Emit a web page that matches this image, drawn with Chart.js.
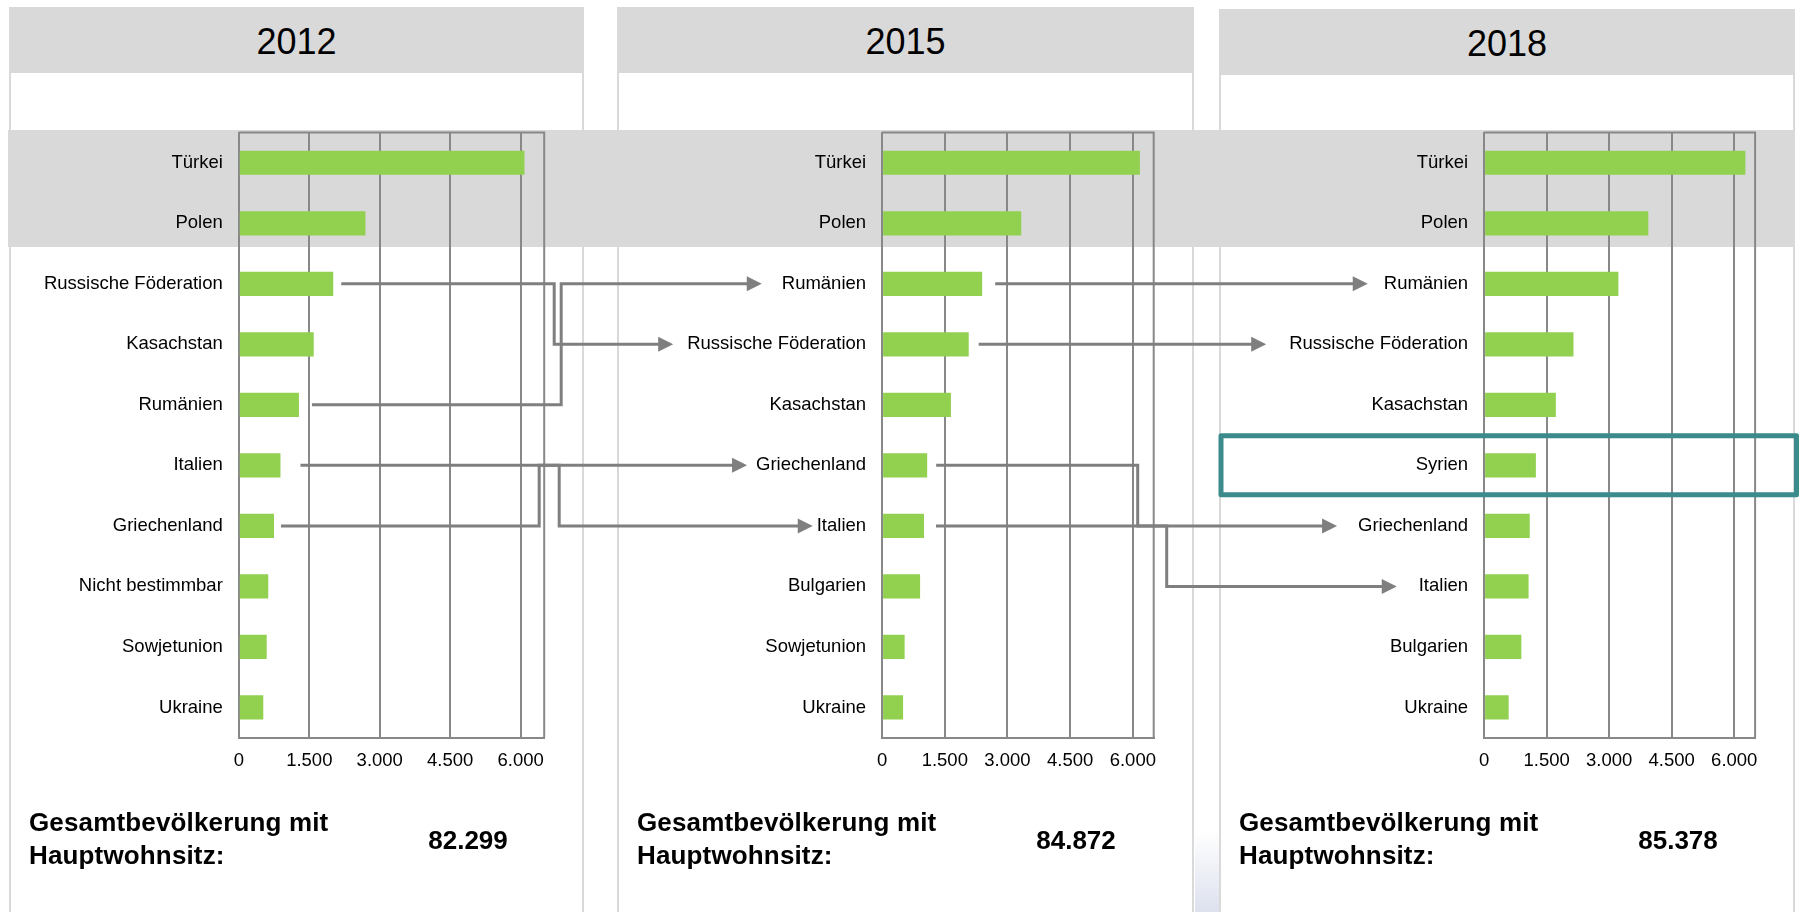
<!DOCTYPE html>
<html lang="de">
<head>
<meta charset="utf-8">
<title>Ausländische Bevölkerung nach Staatsangehörigkeit</title>
<script src="https://cdn.jsdelivr.net/npm/chart.js@4/dist/chart.umd.min.js"></script>
<style>
    html, body { margin: 0; padding: 0; background: #fff; }
    body { width: 1802px; height: 912px; position: relative; overflow: hidden;
           font-family: "Liberation Sans", Arial, sans-serif; color: #000; }
    .panel { position: absolute; bottom: 0; box-sizing: border-box;
             border-left: 2px solid #d9d9d9; border-right: 2px solid #d9d9d9; }
    .head { position: absolute; left: -2px; right: -2px; top: 0; height: 66px; background: #d9d9d9; }
    .year { position: absolute; left: 0; right: 0; top: 15px; font-size: 36px; line-height: 40px; text-align: center; }
    .band { position: absolute; left: 8px; width: 1787px; top: 130px; height: 117px; background: #d9d9d9; }
    .total-label { position: absolute; font-weight: bold; font-size: 26px; line-height: 32.6px; white-space: nowrap; letter-spacing: 0.15px; }
    .total-value { position: absolute; width: 200px; font-weight: bold; font-size: 26px; line-height: 32px; text-align: center; }
    .smudge { position: absolute; left: 1195px; width: 24px; top: 830px; height: 82px;
              background: linear-gradient(#fff, #dde1ee); }
    canvas.chart { position: absolute; }
    #overlay { position: absolute; left: 0; top: 0; pointer-events: none; }
</style>
</head>
<body>
<div class="band"></div>
<div class="smudge"></div>
<canvas id="overlay" width="1802" height="912"></canvas>
<script>
const years = ['2012', '2015', '2018'];

const categories2012 = ['Türkei', 'Polen', 'Russische Föderation', 'Kasachstan', 'Rumänien', 'Italien', 'Griechenland', 'Nicht bestimmbar', 'Sowjetunion', 'Ukraine'];
const values2012     = [6080, 2695, 2010, 1595, 1280, 887, 749, 627, 594, 521];

const categories2015 = ['Türkei', 'Polen', 'Rumänien', 'Russische Föderation', 'Kasachstan', 'Griechenland', 'Italien', 'Bulgarien', 'Sowjetunion', 'Ukraine'];
const values2015     = [6170, 3330, 2395, 2073, 1647, 1079, 1003, 909, 539, 502];

const categories2018 = ['Türkei', 'Polen', 'Rumänien', 'Russische Föderation', 'Kasachstan', 'Syrien', 'Griechenland', 'Italien', 'Bulgarien', 'Ukraine'];
const values2018     = [6267, 3939, 3221, 2144, 1721, 1242, 1095, 1067, 893, 589];

const totals    = ['82.299', '84.872', '85.378'];
const axisTicks = [0, 1500, 3000, 4500, 6000];
const axisMax   = 6500;

// rank changes shown by the arrows
const moves2012to2015 = [['Russische Föderation', 'Russische Föderation'], ['Rumänien', 'Rumänien'], ['Italien', 'Italien'], ['Griechenland', 'Griechenland']];
const moves2015to2018 = [['Rumänien', 'Rumänien'], ['Russische Föderation', 'Russische Föderation'], ['Griechenland', 'Griechenland'], ['Italien', 'Italien']];
const highlight2018   = 'Syrien';

// ── Layout / styles ─────────────────────────────
const GRID       = '#888888';
const BAR        = '#92d050';
const ARROW      = '#7f7f7f';
const TEAL       = '#3b8a8c';
const LABEL_PAD  = 16;
const LABEL_SIZE = 18.5;
const LABEL_FONT = LABEL_SIZE + 'px "Liberation Sans", Arial, sans-serif';

const panels = [
    { left: 9,    width: 575, headTop: 7, plotLeft: 238.8,  plotRight: 544.2 },
    { left: 617,  width: 577, headTop: 7, plotLeft: 882.1,  plotRight: 1153.7 },
    { left: 1219, width: 576, headTop: 9, plotLeft: 1484.1, plotRight: 1755.1 }
];
const CHART_TOP = 118, CHART_H = 672, PLOT_TOP = 132.5, PLOT_BOTTOM = 737.7;

// [gap after bar, bend x relative to plot right (null = straight), gap before target label]
const bends12 = [[8, 10, 14], [13, 17, 20], [20, 15, 4], [7, -5, 9]];
const bends15 = [[13, null, 16], [10, null, 23], [9, -16, 21], [12, 13, 22]];

Chart.defaults.font.family = '"Liberation Sans", Arial, sans-serif';
Chart.defaults.color = '#000';

const fmt = v => String(v).replace(/\B(?=(\d{3})+(?!\d))/g, '.');

const frame = {
    id: 'frame',
    beforeDatasetsDraw(chart) {
        const { ctx, chartArea: a } = chart;
        ctx.save();
        ctx.strokeStyle = GRID;
        ctx.lineWidth = 2;
        ctx.beginPath();
        ctx.moveTo(a.left, a.top);
        ctx.lineTo(a.right, a.top);
        ctx.lineTo(a.right, a.bottom);
        ctx.stroke();
        ctx.restore();
    }
};

function buildPanel(p, i) {
    const el = document.createElement('div');
    el.className = 'panel';
    el.style.left = p.left + 'px';
    el.style.width = p.width + 'px';
    el.style.top = p.headTop + 'px';
    el.innerHTML = `<div class="head"></div><div class="year">${years[i]}</div>`;
    document.body.insertBefore(el, document.body.firstChild);

    const lab = document.createElement('div');
    lab.className = 'total-label';
    lab.style.left = (p.left + 20) + 'px';
    lab.style.top = '806px';
    lab.innerHTML = 'Gesamtbevölkerung mit<br>Hauptwohnsitz:';
    document.body.appendChild(lab);

    const val = document.createElement('div');
    val.className = 'total-value';
    val.style.left = (p.left + 459 - 100) + 'px';
    val.style.top = '824px';
    val.textContent = totals[i];
    document.body.appendChild(val);
}

function makeChart(p, labels, values) {
    const cv = document.createElement('canvas');
    cv.className = 'chart';
    const left = p.left + 2, width = p.width - 4;
    cv.width = width; cv.height = CHART_H;
    cv.style.left = left + 'px';
    cv.style.top = CHART_TOP + 'px';
    document.body.insertBefore(cv, document.getElementById('overlay'));

    const yWidth = p.plotLeft - left;
    const padRight = left + width - p.plotRight;
    const xHeight = CHART_TOP + CHART_H - PLOT_BOTTOM;

    const chart = new Chart(cv, {
        type: 'bar',
        data: { labels, datasets: [{ data: values, backgroundColor: BAR, barPercentage: 0.4, categoryPercentage: 1 }] },
        options: {
            indexAxis: 'y', responsive: false, animation: false,
            layout: { padding: { top: PLOT_TOP - CHART_TOP, right: padRight, left: 0, bottom: 0 } },
            plugins: { legend: { display: false }, tooltip: { enabled: false } },
            scales: {
                x: {
                    min: 0, max: axisMax,
                    afterBuildTicks: s => { s.ticks = axisTicks.map(v => ({ value: v })); },
                    afterFit: s => { s.height = xHeight; s.paddingLeft = 0; s.paddingRight = 0; },
                    grid: { color: GRID, lineWidth: 2, drawTicks: false },
                    border: { color: GRID, width: 2 },
                    ticks: { padding: 12, font: { size: LABEL_SIZE }, color: '#000', maxRotation: 0, autoSkip: false, callback: v => fmt(v) }
                },
                y: {
                    afterFit: s => { s.width = yWidth; s.paddingTop = 0; s.paddingBottom = 0; },
                    grid: { display: false, drawTicks: false },
                    border: { color: GRID, width: 2 },
                    ticks: { padding: LABEL_PAD, font: { size: LABEL_SIZE }, color: '#000', autoSkip: false }
                }
            }
        },
        plugins: [frame]
    });
    return { chart, left, top: CHART_TOP };
}

function drawArrows(ctx, src, dst, moves, geo) {
    const a = src.chart, b = dst.chart;
    moves.forEach(([from, to], i) => {
        const [startGap, bend, tipGap] = geo[i];
        const ia = a.data.labels.indexOf(from), ib = b.data.labels.indexOf(to);
        const y1 = src.top + a.scales.y.getPixelForValue(ia);
        const y2 = dst.top + b.scales.y.getPixelForValue(ib);
        const x1 = src.left + a.scales.x.getPixelForValue(a.data.datasets[0].data[ia]) + startGap;
        ctx.font = LABEL_FONT;
        const tip = dst.left + b.scales.y.right - LABEL_PAD - ctx.measureText(to).width - tipGap;
        const head = 15;

        ctx.strokeStyle = ARROW; ctx.fillStyle = ARROW; ctx.lineWidth = 3;
        ctx.beginPath();
        ctx.moveTo(x1, y1);
        if (bend !== null) {
            const xb = src.left + a.scales.x.right + bend;
            ctx.lineTo(xb, y1);
            ctx.lineTo(xb, y2);
        }
        ctx.lineTo(tip - head + 1, y2);
        ctx.stroke();

        ctx.beginPath();
        ctx.moveTo(tip, y2);
        ctx.lineTo(tip - head, y2 - 7.5);
        ctx.lineTo(tip - head, y2 + 7.5);
        ctx.closePath();
        ctx.fill();
    });
}

panels.forEach(buildPanel);
const c12 = makeChart(panels[0], categories2012, values2012);
const c15 = makeChart(panels[1], categories2015, values2015);
const c18 = makeChart(panels[2], categories2018, values2018);

const octx = document.getElementById('overlay').getContext('2d');
drawArrows(octx, c12, c15, moves2012to2015, bends12);
drawArrows(octx, c15, c18, moves2015to2018, bends15);

// highlight box around the new entry
const ys = c18.chart.scales.y;
const yc = c18.top + ys.getPixelForValue(categories2018.indexOf(highlight2018));
octx.strokeStyle = TEAL;
octx.lineWidth = 5;
octx.lineJoin = 'round';
octx.strokeRect(panels[2].left + 2, yc - 29.5, 1796.5 - panels[2].left - 2, 59);
</script>
</body>
</html>
